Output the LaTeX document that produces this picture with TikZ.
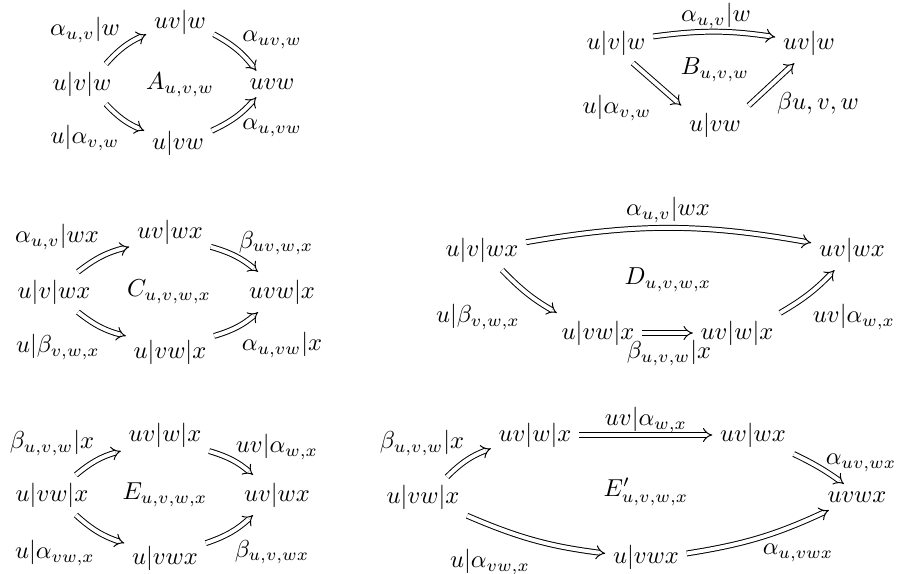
\documentclass[tikz,border=0pt]{standalone}
\usetikzlibrary{arrows.meta}
\begin{document}
\begin{tikzpicture}[x=0.408pt,y=-0.408pt,
  obj/.style={inner sep=3pt},
  lab/.style={inner sep=0pt},
  dbl/.style={double, double distance=1.6pt, line width=0.4pt, -{Implies}}]
\useasboundingbox (0,0) rectangle (898,574);
% ---------- A ----------
\node[obj] (a1) at (82,84) {$u|v|w$};
\node[obj] (a2) at (180,22) {$uv|w$};
\node[obj] (a3) at (272,84) {$uvw$};
\node[obj] (a4) at (178,143) {$u|vw$};
\node[lab] (aA) at (180,85) {$A_{u,v,w}$};
\node[lab] (al1) at (85,30) {$\alpha_{u,v}|w$};
\node[lab] (al2) at (85,138) {$u|\alpha_{v,w}$};
\node[lab] (al3) at (272,40) {$\alpha_{uv,w}$};
\node[lab] (al4) at (272,128) {$\alpha_{u,vw}$};
\draw[dbl] (a1.40) to[bend left=12] (a2.200);
\draw[dbl] (a1.-40) to[bend right=12] (a4.160);
\draw[dbl] (a2.-20) to[bend left=12] (a3.140);
\draw[dbl] (a4.20) to[bend right=12] (a3.-140);
% ---------- B ----------
\node[obj] (b1) at (616,43) {$u|v|w$};
\node[obj] (b2) at (809,43) {$uv|w$};
\node[obj] (b3) at (715,125) {$u|vw$};
\node[lab] (bB) at (715,70) {$B_{u,v,w}$};
\node[lab] (bl1) at (716,16) {$\alpha_{u,v}|w$};
\node[lab] (bl2) at (617,108) {$u|\alpha_{v,w}$};
\node[lab] (bl3) at (818,103) {$\beta u,v,w$};
\draw[dbl] (b1.10) to[bend left=8] (b2.170);
\draw[dbl] (b1.-50) -- (b3.150);
\draw[dbl] (b3.30) -- (b2.-126);
% ---------- C ----------
\node[obj] (c1) at (54,292) {$u|v|wx$};
\node[obj] (c2) at (170,232) {$uv|wx$};
\node[obj] (c3) at (282,292) {$uvw|x$};
\node[obj] (c4) at (170,352) {$u|vw|x$};
\node[lab] (cC) at (169,292) {$C_{u,v,w,x}$};
\node[lab] (cl1) at (57,237) {$\alpha_{u,v}|wx$};
\node[lab] (cl2) at (276,243) {$\beta_{uv,w,x}$};
\node[lab] (cl3) at (58,347) {$u|\beta_{v,w,x}$};
\node[lab] (cl4) at (282,345) {$\alpha_{u,vw}|x$};
\draw[dbl] (c1.40) to[bend left=12] (c2.200);
\draw[dbl] (c1.-40) to[bend right=12] (c4.160);
\draw[dbl] (c2.-20) to[bend left=12] (c3.140);
\draw[dbl] (c4.20) to[bend right=12] (c3.-140);
% ---------- D ----------
\node[obj] (d1) at (482,250) {$u|v|wx$};
\node[obj] (d2) at (852,250) {$uv|wx$};
\node[obj] (d3) at (598,333) {$u|vw|x$};
\node[obj] (d4) at (737,333) {$uv|w|x$};
\node[lab] (dD) at (668,280) {$D_{u,v,w,x}$};
\node[lab] (dl1) at (668,210) {$\alpha_{u,v}|wx$};
\node[lab] (dl2) at (478,317) {$u|\beta_{v,w,x}$};
\node[lab] (dl3) at (669,353) {$\beta_{u,v,w}|x$};
\node[lab] (dl4) at (854,317) {$uv|\alpha_{w,x}$};
\draw[dbl] (d1.10) to[bend left=10] (d2.170);
\draw[dbl] (d1.-45) to[bend right=8] (d3.154);
\draw[dbl] (d3.east) -- (d4.west);
\draw[dbl] (d4.25) to[bend right=8] (d2.-131);
% ---------- E ----------
\node[obj] (e1) at (52,495) {$u|vw|x$};
\node[obj] (e2) at (165,435) {$uv|w|x$};
\node[obj] (e3) at (277,495) {$uv|wx$};
\node[obj] (e4) at (165,558) {$u|vwx$};
\node[lab] (eE) at (165,495) {$E_{u,v,w,x}$};
\node[lab] (el1) at (52,443) {$\beta_{u,v,w}|x$};
\node[lab] (el2) at (277,447) {$uv|\alpha_{w,x}$};
\node[lab] (el3) at (55,553) {$u|\alpha_{vw,x}$};
\node[lab] (el4) at (272,552) {$\beta_{u,v,wx}$};
\draw[dbl] (e1.40) to[bend left=12] (e2.200);
\draw[dbl] (e1.-40) to[bend right=12] (e4.160);
\draw[dbl] (e2.-20) to[bend left=12] (e3.140);
\draw[dbl] (e4.20) to[bend right=12] (e3.-140);
% ---------- E' ----------
\node[obj] (f1) at (423,497) {$u|vw|x$};
\node[obj] (f2) at (535,435) {$uv|w|x$};
\node[obj] (f3) at (753,435) {$uv|wx$};
\node[obj] (f4) at (857,497) {$uvwx$};
\node[obj] (f5) at (646,557) {$u|vwx$};
\node[lab] (fE) at (646,492) {$E'_{u,v,w,x}$};
\node[lab] (fl1) at (422,443) {$\beta_{u,v,w}|x$};
\node[lab] (fl2) at (646,420) {$uv|\alpha_{w,x}$};
\node[lab] (fl3) at (861,463) {$\alpha_{uv,wx}$};
\node[lab] (fl4) at (490,562) {$u|\alpha_{vw,x}$};
\node[lab] (fl5) at (798,553) {$\alpha_{u,vwx}$};
\draw[dbl] (f1.40) to[bend left=12] (f2.197);
\draw[dbl] (f2.east) -- (f3.west);
\draw[dbl] (f3.-25) to[bend left=5] (f4.135);
\draw[dbl] (f1.-23) to[bend right=8] (f5.175);
\draw[dbl] (f5.5) to[bend right=8] (f4.-155);
\end{tikzpicture}
\end{document}
